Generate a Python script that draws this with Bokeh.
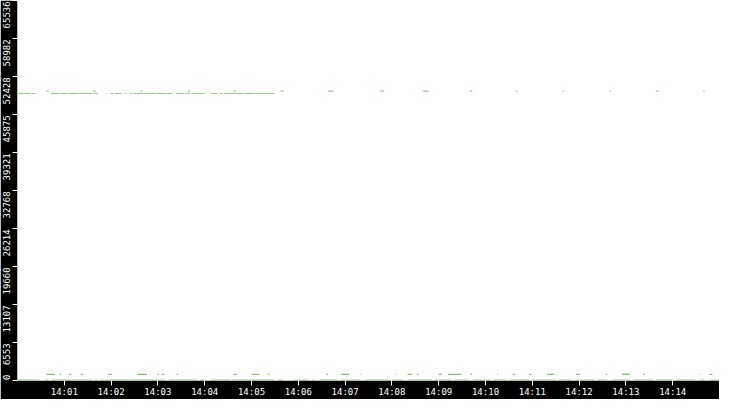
import math
import pandas as pd
from bokeh.plotting import figure
from bokeh.models import Range1d, FixedTicker, DatetimeTickFormatter, CustomJSTickFormatter, ColumnDataSource
from bokeh.embed import file_html
from bokeh.resources import INLINE

# ---------------- data ----------------
day = "2024-01-01"
x_start_label = "14:00"
x_end_label = "14:15"
x_tick_labels = ["14:01", "14:02", "14:03", "14:04", "14:05", "14:06", "14:07",
                 "14:08", "14:09", "14:10", "14:11", "14:12", "14:13", "14:14"]
y_tick_values = [0, 6553, 13107, 19660, 26214, 32768, 39321, 45875, 52428, 58982, 65536]
y_tick_labels = ["0", "6553", "13107", "19660", "26214", "32768", "39321",
                 "45875", "52428", "58982", "65536"]
y_min, y_max = 0, 65536

# runs of samples: seconds after 14:00:00 (start, end)
high_dense_start = [0, 18, 43, 54, 66, 79, 98, 114, 119, 125, 138, 144, 148, 179, 191, 203,
                    215, 223, 248, 259, 265, 291, 304]
high_dense_end = [16, 23, 53, 65, 78, 96, 103, 115, 123, 134, 140, 146, 178, 190, 198, 213,
                  221, 240, 256, 263, 290, 303, 329]
high_dense_value = 49500

high_sparse_start = [37, 97, 158, 218, 277, 337, 398, 465, 520, 580, 639, 699, 759, 819, 879]
high_sparse_end = [40, 100, 160, 221, 280, 341, 405, 470, 527, 583, 641, 701, 761, 822, 881]
high_sparse_value = 49900

low_dense_start = [0, 35, 44, 99, 106, 146, 194, 234, 248, 275, 334, 356, 378, 388, 415, 446,
                   481, 500, 535, 560, 584, 610, 631, 660, 694, 715, 744, 763, 790, 819, 844,
                   875, 888]
low_dense_end = [28, 40, 96, 103, 144, 190, 231, 240, 273, 329, 340, 373, 381, 410, 440, 478,
                 494, 531, 556, 578, 606, 628, 656, 690, 710, 740, 756, 785, 815, 840, 869,
                 881, 900]
low_dense_value = 80

low_sparse_start = [37, 54, 66, 81, 116, 154, 179, 185, 204, 277, 300, 321, 396, 415, 440, 485,
                    500, 512, 540, 552, 581, 615, 635, 656, 679, 716, 754, 775, 802, 875, 887]
low_sparse_end = [48, 56, 69, 84, 121, 166, 181, 188, 206, 281, 310, 323, 398, 425, 441, 486,
                  506, 514, 544, 569, 583, 616, 638, 659, 688, 721, 756, 785, 804, 876, 891]
low_sparse_value = 1050

# ---------------- helpers ----------------
base = pd.Timestamp(f"{day} {x_start_label}")
def ts(label):
    return pd.Timestamp(f"{day} {label}")

def runs_source(starts, ends, value):
    return ColumnDataSource(dict(
        x0=[base + pd.Timedelta(seconds=s) for s in starts],
        x1=[base + pd.Timedelta(seconds=e) for e in ends],
        y=[value] * len(starts),
    ))

W, H = 719, 399
FONT = "DejaVu Sans Mono"
FONT_SIZE = "9px"
CHAR_PX = 5.42

p = figure(width=W, height=H, x_axis_type="datetime", output_backend="svg",
           toolbar_location=None, min_border=0,
           x_range=Range1d(ts(x_start_label), ts(x_end_label)),
           y_range=Range1d(y_min, y_max))
p.border_fill_color = "black"
p.background_fill_color = "white"
p.outline_line_color = None
p.xgrid.visible = False
p.ygrid.visible = False

green = "#6fbf5f"
for starts, ends, val, alpha in [
    (high_dense_start, high_dense_end, high_dense_value, 0.75),
    (high_sparse_start, high_sparse_end, high_sparse_value, 0.75),
    (low_dense_start, low_dense_end, low_dense_value, 0.75),
    (low_sparse_start, low_sparse_end, low_sparse_value, 0.9),
]:
    src = runs_source(starts, ends, val)
    p.segment(x0="x0", y0="y", x1="x1", y1="y", source=src,
              line_color=green, line_alpha=alpha, line_width=1.2)

# ---------------- x axis ----------------
xa = p.xaxis[0]
xa.ticker = FixedTicker(ticks=[ts(t).value / 1e6 for t in x_tick_labels])
fmt = "%H:%M"
xa.formatter = DatetimeTickFormatter(seconds=fmt, minsec=fmt, minutes=fmt, hourmin=fmt, hours=fmt)
xa.axis_line_color = None
xa.major_tick_line_color = "white"
xa.major_tick_out = 5
xa.major_tick_in = 0
xa.minor_tick_line_color = None
xa.major_label_text_color = "white"
xa.major_label_text_font = FONT
xa.major_label_text_font_size = FONT_SIZE
xa.major_label_standoff = 1

# ---------------- y axis ----------------
frame_h = H - 15
upp = (y_max - y_min) / frame_h
label_pos = []
for v, lab in zip(y_tick_values, y_tick_labels):
    half = len(lab) * CHAR_PX / 2
    pos = v - (1 + half) * upp
    pos = max(pos, y_min + (half + 0.5) * upp)
    label_pos.append(pos)

ya = p.yaxis[0]
ya.ticker = FixedTicker(ticks=label_pos, minor_ticks=y_tick_values)
ya.formatter = CustomJSTickFormatter(args=dict(pos=label_pos, labels=y_tick_labels), code="""
let b = 0;
for (let i = 0; i < pos.length; i++) {
  if (Math.abs(pos[i] - tick) < Math.abs(pos[b] - tick)) b = i;
}
return labels[b];
""")
ya.axis_line_color = None
ya.major_tick_line_color = None
ya.major_tick_out = 0
ya.major_tick_in = 0
ya.minor_tick_line_color = "white"
ya.minor_tick_out = 5
ya.minor_tick_in = 0
ya.major_label_orientation = "vertical"
ya.major_label_text_color = "white"
ya.major_label_text_font = FONT
ya.major_label_text_font_size = FONT_SIZE
ya.major_label_standoff = 2

open("out.html", "w").write(file_html(p, INLINE))
